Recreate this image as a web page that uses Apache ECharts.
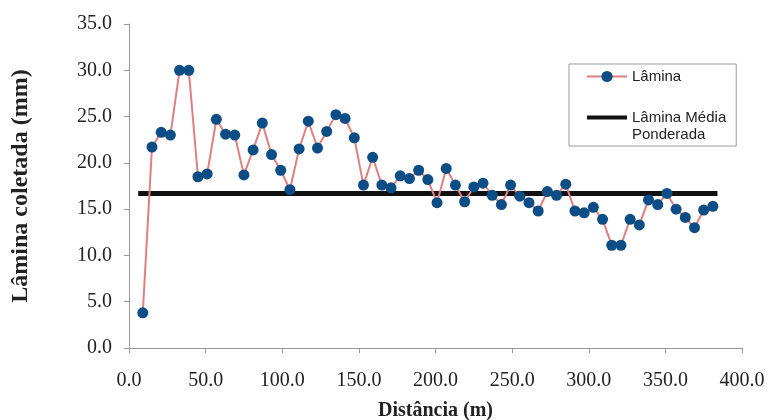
<!DOCTYPE html>
<html>
<head>
<meta charset="utf-8">
<script src="https://cdn.jsdelivr.net/npm/echarts@6/dist/echarts.min.js"></script>
<style>
  html, body { margin: 0; padding: 0; background: #fff; }
  #chart { width: 767px; height: 420px; }
</style>
</head>
<body>
<div id="chart"></div>
<script>
// distância (m) de cada coletor
const distancia = [9, 15, 21, 27, 33, 39, 45, 51, 57, 63, 69, 75, 81, 87, 93, 99, 105, 111, 117, 123,
  129, 135, 141, 147, 153, 159, 165, 171, 177, 183, 189, 195, 201, 207, 213, 219, 225, 231, 237, 243,
  249, 255, 261, 267, 273, 279, 285, 291, 297, 303, 309, 315, 321, 327, 333, 339, 345, 351, 357, 363,
  369, 375, 381];
// lâmina coletada (mm)
const lamina = [3.8, 21.7, 23.3, 23.0, 30.0, 30.0, 18.5, 18.8, 24.7, 23.1, 23.0, 18.7, 21.4, 24.3, 20.9, 19.2, 17.1, 21.5, 24.5, 21.6,
  23.4, 25.2, 24.8, 22.7, 17.6, 20.6, 17.6, 17.3, 18.6, 18.3, 19.2, 18.2, 15.7, 19.4, 17.6, 15.8, 17.4, 17.8, 16.5, 15.5,
  17.6, 16.4, 15.7, 14.8, 16.9, 16.5, 17.7, 14.8, 14.6, 15.2, 13.9, 11.1, 11.1, 13.9, 13.3, 16.0, 15.5, 16.7, 15.0, 14.1,
  13.0, 14.9, 15.3];
// lâmina média ponderada (linha horizontal)
const mediaX = [6, 384];
const mediaY = [16.7, 16.7];

const chart = echarts.init(document.getElementById('chart'), null, { renderer: 'canvas' });

const serif = '"Liberation Serif", "Times New Roman", serif';
const sans = '"Liberation Sans", Arial, sans-serif';

const axisStyle = {
  axisLine: { show: true, lineStyle: { color: '#999', width: 1 } },
  axisTick: { show: true, inside: false, length: 5, lineStyle: { color: '#999' } },
  splitLine: { show: false }
};

const option = {
  backgroundColor: '#fff',
  animation: false,
  grid: { left: 129, right: 25, top: 24, bottom: 72, containLabel: false, outerBoundsMode: 'none' },
  legend: {
    orient: 'vertical',
    left: 569,
    top: 64,
    padding: [4, 10, 3, 16],
    itemGap: 7,
    itemWidth: 40,
    itemHeight: 14,
    borderColor: '#999',
    borderWidth: 1,
    textStyle: { fontFamily: sans, fontSize: 15, lineHeight: 17, color: '#222' },
    // linha vazia no topo: o ícone fica alinhado com "Lâmina Média"
    formatter: name => name === 'Lâmina Média Ponderada' ? '\nLâmina Média\nPonderada' : name,
    data: [
      { name: 'Lâmina', itemStyle: { color: '#0d4d86' }, lineStyle: { color: '#e07f7f', width: 2 } },
      { name: 'Lâmina Média Ponderada', itemStyle: { color: 'rgba(0,0,0,0)', borderWidth: 0 }, lineStyle: { color: '#111', width: 4 } }
    ]
  },
  xAxis: Object.assign({
    type: 'value',
    min: 0,
    max: 400,
    interval: 50,
    name: 'Distância (m)',
    nameLocation: 'middle',
    nameGap: 53,
    nameTextStyle: { fontFamily: serif, fontSize: 20, fontWeight: 'bold', color: '#222' },
    axisLabel: {
      margin: 23,
      fontFamily: serif, fontSize: 20, color: '#222',
      formatter: v => v.toFixed(1)
    }
  }, axisStyle),
  yAxis: Object.assign({
    type: 'value',
    min: 0,
    max: 35,
    interval: 5,
    name: 'Lâmina coletada (mm)',
    nameLocation: 'middle',
    nameGap: 96,
    nameTextStyle: { fontFamily: serif, fontSize: 24, fontWeight: 'bold', color: '#222' },
    axisLabel: {
      margin: 17,
      fontFamily: serif, fontSize: 20, color: '#222',
      formatter: v => v.toFixed(1)
    }
  }, axisStyle),
  series: [
    {
      name: 'Lâmina Média Ponderada',
      type: 'line',
      data: mediaX.map((x, i) => [x, mediaY[i]]),
      symbol: 'none',
      color: '#111',
      lineStyle: { color: '#111', width: 5 },
      z: 2
    },
    {
      name: 'Lâmina',
      type: 'line',
      data: distancia.map((x, i) => [x, lamina[i]]),
      symbol: 'circle',
      symbolSize: 11,
      color: '#0d4d86',
      itemStyle: { color: '#0d4d86' },
      lineStyle: { color: '#e07f7f', width: 2 },
      z: 3
    }
  ]
};

chart.setOption(option);
</script>
</body>
</html>
